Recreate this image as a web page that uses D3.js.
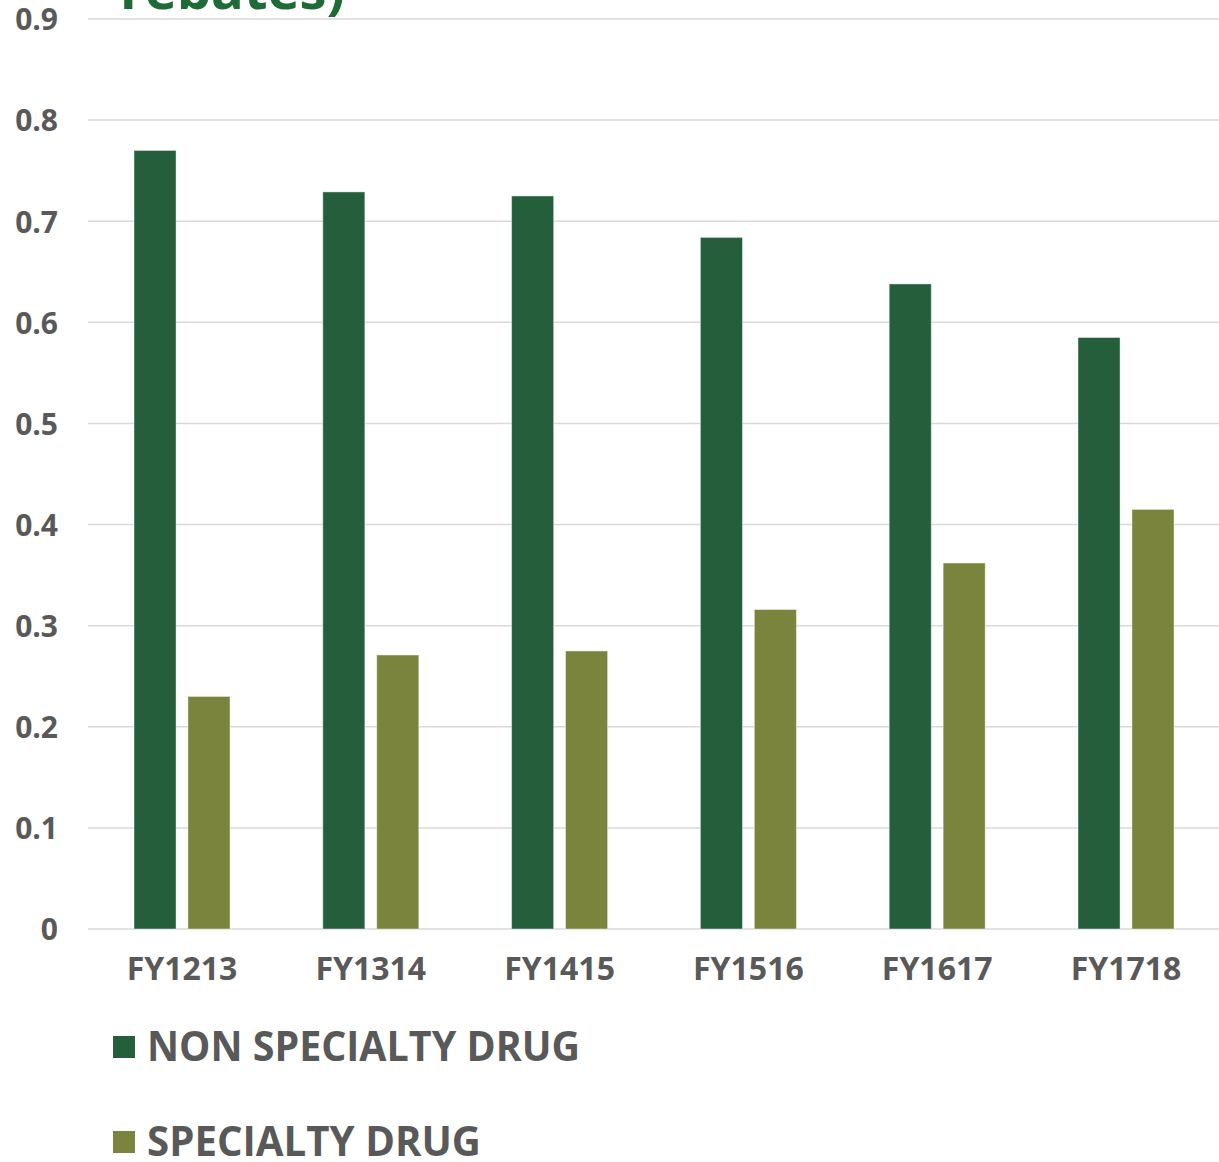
<!DOCTYPE html>
<html>
    <head>
        <meta charset="utf-8">
        <style>
        body {
            margin: 0;
            background: #fff;
            font-family: "Open Sans", "DejaVu Sans", sans-serif;
        }
        .grid line {
            stroke: #d9d9d9;
            stroke-width: 1.5;
        }
        .axis text {
            fill: #595959;
            font-weight: 700;
            font-family: "Open Sans", "DejaVu Sans", sans-serif;
        }
        .legend text {
            fill: #595959;
            font-weight: 700;
        }
        </style>
        <script src="https://d3js.org/d3.v7.min.js"></script>
    </head>
    <body>
        <div class="graph"></div>
        <script type="text/javascript">
            var categories = ["FY1213", "FY1314", "FY1415", "FY1516", "FY1617", "FY1718"];
            var seriesNames = ["NON SPECIALTY DRUG", "SPECIALTY DRUG"];
            var nonSpecialty = [0.77, 0.729, 0.725, 0.684, 0.638, 0.585];
            var specialty = [0.23, 0.271, 0.275, 0.316, 0.362, 0.415];
            var yTicks = [0, 0.1, 0.2, 0.3, 0.4, 0.5, 0.6, 0.7, 0.8, 0.9];
            var colors = ["#255e3a", "#7a843c"];

            var width = 1219, height = 1162;

            var svg = d3.select(".graph").append("svg")
                .attr("width", width)
                .attr("height", height);

            var y = d3.scaleLinear()
                .domain([0, 0.9])
                .range([929, 19]);

            var x0 = d3.scaleBand()
                .domain(categories)
                .range([87.6, 1220.4])
                .padding(0);

            var x1 = d3.scaleBand()
                .domain(seriesNames)
                .range([0, x0.bandwidth()])
                .paddingInner(0.22)
                .paddingOuter(0.86);

            // title, mostly cut off at the top
            svg.append("text")
                .attr("x", 120)
                .attr("y", 9)
                .attr("textLength", 225)
                .attr("lengthAdjust", "spacingAndGlyphs")
                .style("font-size", "54px")
                .style("font-weight", 700)
                .style("fill", "#1f6b37")
                .text("rebates)");

            // gridlines
            svg.append("g")
                .attr("class", "grid")
                .selectAll("line")
                .data(yTicks)
                .enter().append("line")
                .attr("x1", 88)
                .attr("x2", 1219)
                .attr("y1", function(d) { return y(d); })
                .attr("y2", function(d) { return y(d); });

            // y axis labels
            var yAxis = svg.append("g")
                .attr("class", "axis axis--y")
                .attr("transform", "translate(58,0)")
                .call(d3.axisLeft(y).tickValues(yTicks).tickSize(0).tickPadding(0)
                    .tickFormat(function(d) { return d === 0 ? "0" : d3.format(".1f")(d); }));
            yAxis.select(".domain").remove();
            yAxis.attr("font-family", null).attr("font-size", null);
            yAxis.selectAll("text").style("font-size", "30px").attr("dy", "0.36em");

            // x axis labels
            var xAxis = svg.append("g")
                .attr("class", "axis axis--x")
                .attr("transform", "translate(0,957)")
                .call(d3.axisBottom(x0).tickSize(0).tickPadding(0));
            xAxis.select(".domain").remove();
            xAxis.attr("font-family", null).attr("font-size", null);
            xAxis.selectAll("text")
                .style("font-size", "32px")
                .attr("dy", "0.72em")
                .attr("y", 0);

            // bars
            var data = categories.map(function(c, i) {
                return { cat: c, values: [nonSpecialty[i], specialty[i]] };
            });

            var groups = svg.append("g")
                .selectAll("g")
                .data(data)
                .enter().append("g")
                .attr("transform", function(d) { return "translate(" + x0(d.cat) + ",0)"; });

            groups.selectAll("rect")
                .data(function(d) { return d.values.map(function(v, j) { return { key: seriesNames[j], value: v, j: j }; }); })
                .enter().append("rect")
                .attr("x", function(d) { return x1(d.key); })
                .attr("width", x1.bandwidth())
                .attr("y", function(d) { return y(d.value); })
                .attr("height", function(d) { return y(0) - y(d.value); })
                .attr("fill", function(d) { return colors[d.j]; })
                .attr("stroke", "rgba(255,255,255,0.45)")
                .attr("stroke-width", 1);

            // legend
            var legendY = [1047, 1142];
            var legendW = [433, 334];
            var legend = svg.append("g")
                .attr("class", "legend")
                .selectAll("g")
                .data(seriesNames)
                .enter().append("g")
                .attr("transform", function(d, i) { return "translate(113," + legendY[i] + ")"; });

            legend.append("rect")
                .attr("x", 0)
                .attr("y", -11)
                .attr("width", 22)
                .attr("height", 22)
                .attr("fill", function(d, i) { return colors[i]; });

            legend.append("text")
                .attr("x", 34)
                .attr("y", 14)
                .attr("textLength", function(d, i) { return legendW[i]; })
                .attr("lengthAdjust", "spacingAndGlyphs")
                .style("font-size", "42px")
                .text(function(d) { return d; });
        </script>
    </body>
</html>
